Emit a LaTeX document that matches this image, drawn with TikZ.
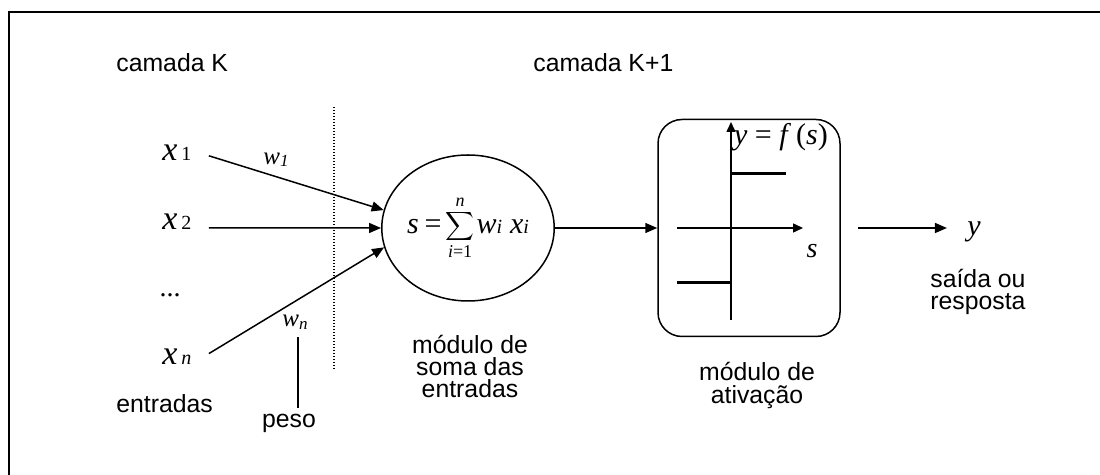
\documentclass[tikz,border=0pt]{standalone}
\usepackage{fontspec}
\setmainfont{Liberation Sans}
\newfontfamily\ser{Liberation Serif}
\usetikzlibrary{arrows.meta,shapes.geometric}
% italic serif variable, optional size
\newcommand\tvar[2][15]{{\ser\fontsize{#1}{#1}\selectfont\itshape #2}}
% upright serif figure, optional size
\newcommand\tnum[2][10]{{\ser\fontsize{#1}{#1}\selectfont #2}}
\begin{document}
\begin{tikzpicture}[x=0.5pt,y=-0.5pt,
  lbl/.style={inner sep=0pt, font=\fontsize{12.4}{11}\selectfont},
  var/.style={inner sep=0pt},
  conn/.style={line width=0.75pt,-{Triangle[length=6pt,width=5pt]}},
  axis/.style={line width=0.75pt,-{Triangle[length=5pt,width=4.5pt]}},
  level/.style={line width=1.5pt},
  plain/.style={line width=0.75pt},
]
\useasboundingbox (0,0) rectangle (1100,475);
% frame (top and left edges)
\draw[line width=0.85pt] (9,475) -- (9,12) -- (1100,12);

% layer titles
\node[lbl, anchor=base west] (camK) at (116,72) {camada K};
\node[lbl, anchor=base west] (camK1) at (533,72) {camada K+1};

% layer separator
\draw[line width=0.6pt, dash pattern=on 0.6pt off 0.9pt] (334,107) -- (334,370);

% inputs
\node[var, anchor=base west] (x1) at (162,161) {\tvar[17]{x}\hspace{2pt}\tnum{1}};
\node[var, anchor=base west] (x2) at (162,230) {\tvar[17]{x}\hspace{2pt}\tnum{2}};
\node[var, anchor=base] (dots) at (170,297) {\tnum[14]{...}};
\node[var, anchor=base west] (xn) at (162,365) {\tvar[17]{x}\hspace{2pt}\tvar[10]{n}};
\node[lbl, anchor=base west] (inp) at (116,413) {entradas};

% weights
\node[var, anchor=base west] (w1) at (263,165) {\tvar[12.5]{w}\raisebox{-0.8pt}{\tvar[8.5]{1}}};
\node[var, anchor=base west] (wn) at (282,327) {\tvar[12.5]{w}\raisebox{-1.5pt}{\tvar[8.5]{n}}};
\node[lbl, anchor=base] (peso) at (289,428) {peso};
\coordinate (pk) at (298,0);
\draw[plain] ([yshift=-3.5pt]wn.south -| pk) -- ([yshift=3pt]peso.north -| pk);

% summation module
\node[draw, ellipse, line width=0.75pt, minimum width=80pt, minimum height=73pt, inner sep=0pt] (sum) at (468,228)
  {\ser\fontsize{15}{15}\selectfont\textit{s}\hspace{3pt}=\hspace{2pt}$\displaystyle\sum_{\mbox{\ser\fontsize{9}{9}\selectfont\itshape i\upshape =1}}^{\mbox{\ser\fontsize{9}{9}\selectfont\itshape n}}$\hspace{1pt}\textit{w}\tvar[10]{i}\hspace{4pt}\textit{x}\tvar[10]{i}};
\node[lbl, anchor=base] (ms1) at (470,354) {módulo de};
\node[lbl, anchor=base] (ms2) at (470,376) {soma das};
\node[lbl, anchor=base] (ms3) at (470,398) {entradas};

\draw[conn] ([xshift=8.5pt,yshift=-1.3pt]x1.east) -- (sum.168);
\draw[conn] ([xshift=8.5pt,yshift=-2.8pt]x2.east) -- (sum.west);
\draw[conn] ([xshift=8.5pt,yshift=1.8pt]xn.east) -- (sum.193);

% activation module
\node[draw, rounded corners=12pt, line width=0.75pt, minimum width=91pt, minimum height=108.5pt, inner sep=0pt] (act) at (749,228) {};
\draw[axis] (677,228) -- (803,228);
\draw[axis] (731,320) -- (731,122);
\draw[level] (731,174) -- (786,174);
\draw[level] (677,283) -- (731,283);
\node[var] (fs) at (781,137) {{\ser\fontsize{15}{15}\selectfont\textit{y} = \textit{f}\,(\textit{s})}};
\node[var] (sax) at (812,251) {\tvar[14]{s}};
\node[lbl, anchor=base] (ma1) at (757,381) {módulo de};
\node[lbl, anchor=base] (ma2) at (757,404) {ativação};

\draw[conn] (sum.east) -- (act.west);

% output
\node[var, anchor=base] (yout) at (974,236) {\tvar[15]{y}};
\draw[conn] ([xshift=8.5pt]act.east) -- ([xshift=-10pt]yout.west |- act.east);
\node[lbl, anchor=base west] (out1) at (930,288) {saída ou};
\node[lbl, anchor=base west] (out2) at (930,310) {resposta};
\end{tikzpicture}
\end{document}
